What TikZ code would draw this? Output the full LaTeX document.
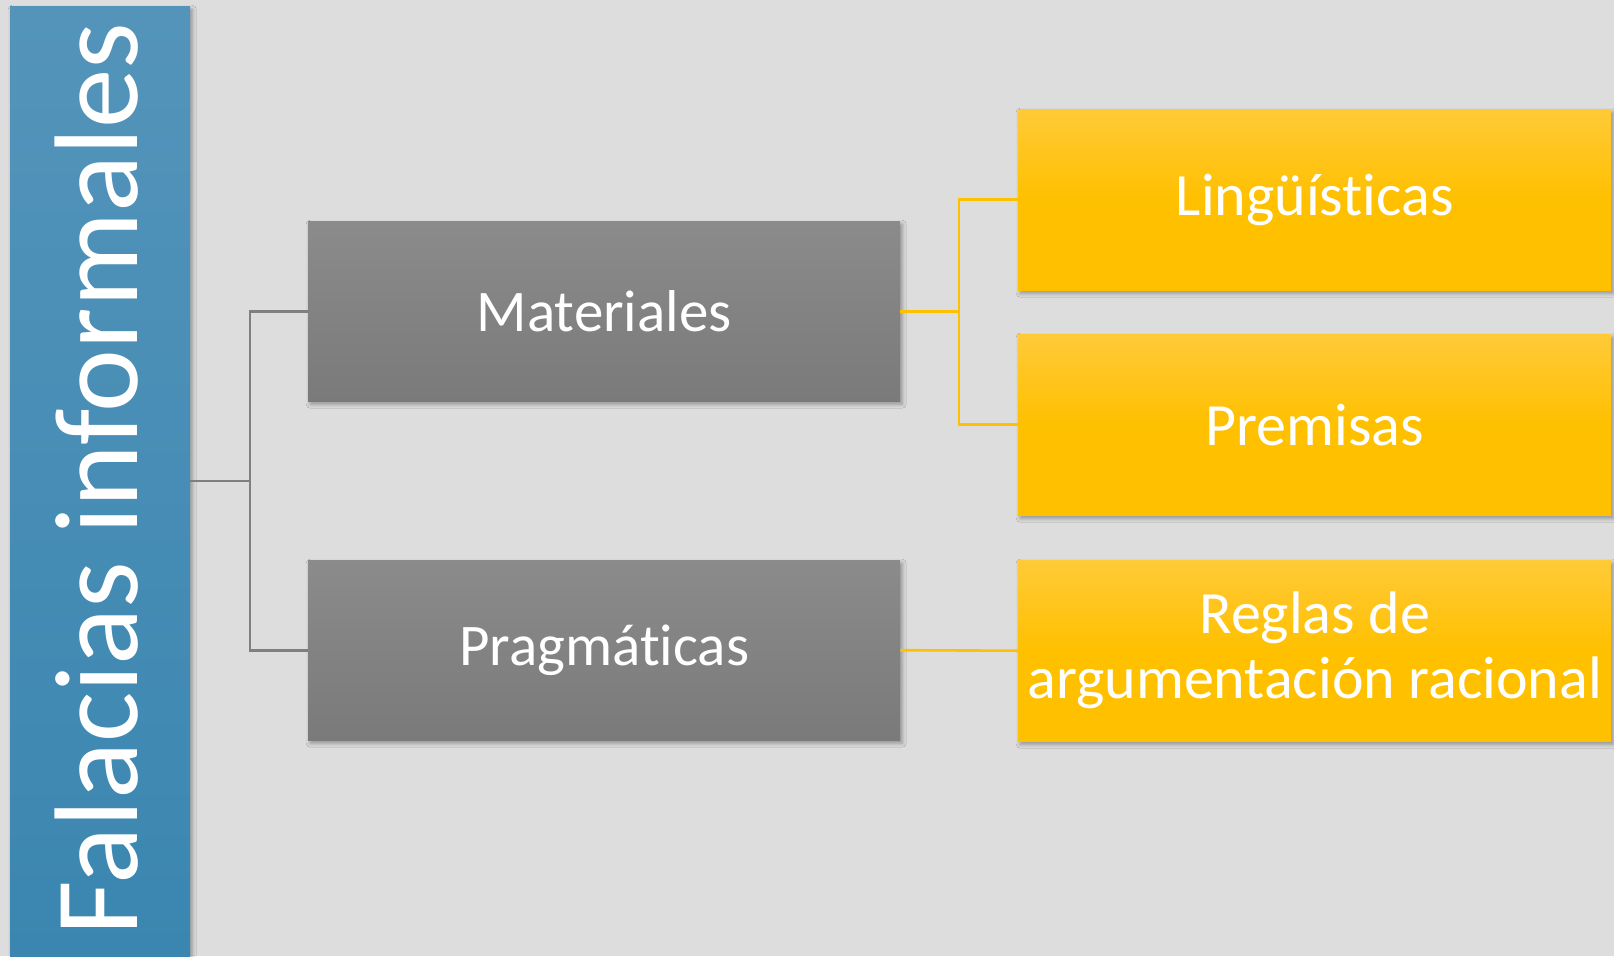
\documentclass[tikz,border=0pt]{standalone}
\usepackage{fontspec}
\setmainfont[Ligatures=NoCommon]{Carlito}
\usetikzlibrary{shadows,shadows.blur}
\definecolor{bgc}{HTML}{DDDDDD}
\definecolor{bluetop}{HTML}{5494BA}
\definecolor{bluebot}{HTML}{3A86B0}
\definecolor{graytop}{HTML}{8B8B8B}
\definecolor{graybot}{HTML}{7A7A7A}
\definecolor{yeltop}{HTML}{FFCA38}
\definecolor{yelbot}{HTML}{FFC000}
\definecolor{linegray}{HTML}{7F7F7F}
\definecolor{lineyel}{HTML}{FFC000}
\tikzset{
  shad/.style={blur shadow={shadow xshift=2pt, shadow yshift=-3pt, shadow blur radius=4pt, shadow opacity=35}},
  titlebox/.style={shad, rectangle, top color=bluetop, bottom color=bluebot, minimum width=180pt, minimum height=960pt, inner sep=0pt, anchor=north west},
  graybox/.style={shad, rectangle, top color=graytop, bottom color=graybot, minimum width=592pt, minimum height=180pt, inner sep=0pt, anchor=north west, text=white, font=\fontsize{59}{65}\selectfont, align=center},
  yelbox/.style={shad, rectangle, top color=yeltop, bottom color=yelbot, middle color=yelbot, minimum width=593pt, minimum height=181pt, inner sep=0pt, anchor=north west, text=white, font=\fontsize{60}{65}\selectfont, align=center},
  glink/.style={draw=linegray, line width=2.6pt},
  ylink/.style={draw=lineyel, line width=2.6pt},
  titletext/.style={rotate=90, anchor=base, text=white, font=\fontsize{119}{122}\selectfont, inner sep=0pt}
}
\begin{document}
\begin{tikzpicture}[x=1pt,y=-1pt]
\fill[bgc] (0,0) rectangle (1614,956);
\useasboundingbox (0,0) rectangle (1614,956);
\node[titlebox] (title) at (10,6) {};
\node[titletext] (titlelbl) at (137,479) {Falacias informales};
\node[graybox] (mat) at (308,221) {Materiales};
\node[graybox] (prag) at (308,560) {Pragmáticas};
\node[yelbox] (ling) at (1018,109) {Lingüísticas};
\node[yelbox] (prem) at (1018,334) {Premisas};
\node[yelbox] (reg) at (1018,560) {Reglas de\\argumentación racional};
\coordinate (j1) at (250,481);
\coordinate (j2) at (959,312);
\draw[glink] (title.east |- j1) -- (j1);
\draw[glink] (mat.west) -| (j1) |- (prag.west);
\draw[ylink] (mat.east) -- (mat.east -| j2);
\draw[ylink] (ling.west) -| (j2) |- (prem.west);
\draw[ylink] (prag.east) -- (reg.west);
\end{tikzpicture}
\end{document}
